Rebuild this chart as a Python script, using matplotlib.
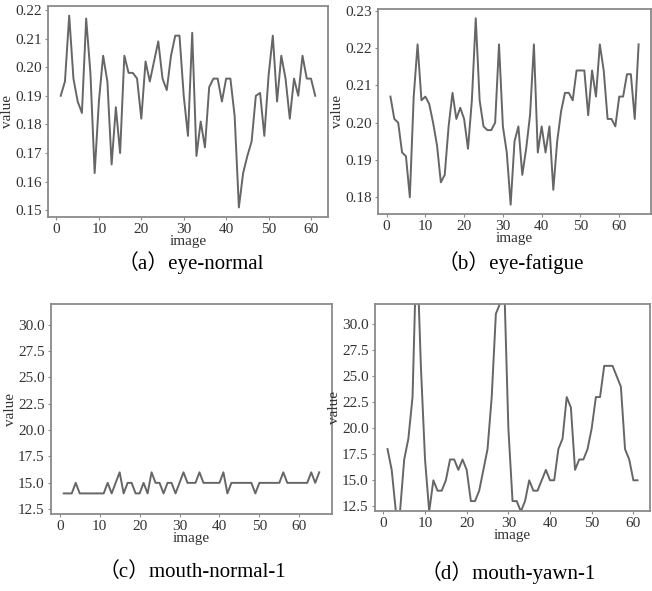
"""
四个子图：眼部/嘴部特征值随图像帧变化曲线
"""
import matplotlib
matplotlib.use('Agg')
import matplotlib.pyplot as plt
from matplotlib.ticker import MultipleLocator, FormatStrFormatter

# ========== 数据 ==========
eye_normal = [0.190, 0.195, 0.218, 0.196, 0.188, 0.184, 0.217, 0.198, 0.163, 0.188,
              0.204, 0.195, 0.166, 0.186, 0.170, 0.204, 0.198, 0.198, 0.196, 0.182,
              0.202, 0.195, 0.202, 0.209, 0.196, 0.192, 0.204, 0.211, 0.211, 0.190,
              0.176, 0.212, 0.169, 0.181, 0.172, 0.193, 0.196, 0.196, 0.188, 0.196,
              0.196, 0.183, 0.151, 0.163, 0.169, 0.174, 0.190, 0.191, 0.176, 0.197,
              0.211, 0.188, 0.204, 0.196, 0.182, 0.196, 0.190, 0.204, 0.196, 0.196,
              0.190]

eye_fatigue = [0.207, 0.201, 0.200, 0.192, 0.191, 0.180, 0.207, 0.221, 0.206, 0.207,
               0.205, 0.200, 0.194, 0.184, 0.186, 0.199, 0.208, 0.201, 0.204, 0.201,
               0.193, 0.206, 0.228, 0.206, 0.199, 0.198, 0.198, 0.200, 0.221, 0.199,
               0.192, 0.178, 0.195, 0.199, 0.186, 0.193, 0.202, 0.221, 0.192, 0.199,
               0.192, 0.199, 0.182, 0.195, 0.203, 0.208, 0.208, 0.206, 0.214, 0.214,
               0.214, 0.202, 0.214, 0.207, 0.221, 0.214, 0.201, 0.201, 0.199, 0.207,
               0.207, 0.213, 0.213, 0.201, 0.221]

mouth_normal = [14, 14, 14, 15, 14, 14, 14, 14, 14, 14,
                14, 15, 14, 15, 16, 14, 15, 15, 14, 14,
                15, 14, 16, 15, 15, 14, 15, 15, 14, 15,
                16, 15, 15, 15, 16, 15, 15, 15, 15, 15,
                16, 14, 15, 15, 15, 15, 15, 15, 14, 15,
                15, 15, 15, 15, 15, 16, 15, 15, 15, 15,
                15, 15, 16, 15, 16]

mouth_yawn = [18, 16, 12, 12, 17, 19, 23, 38, 26, 17,
              12, 15, 14, 14, 15, 17, 17, 16, 17, 16,
              13, 13, 14, 16, 18, 23, 31, 32, 34, 20,
              13, 13, 12, 13, 15, 14, 14, 15, 16, 15,
              15, 18, 19, 23, 22, 16, 17, 17, 18, 20,
              23, 23, 26, 26, 26, 25, 24, 18, 17, 15,
              15]

captions = ['（a）eye-normal', '（b）eye-fatigue', '（c）mouth-normal-1', '（d）mouth-yawn-1']

# ========== 绘图 ==========
plt.rcParams['font.family'] = ['Liberation Serif', 'DejaVu Serif']
line_color = '#666666'
spine_color = '#8a8a8a'

fig = plt.figure(figsize=(6.52, 5.91), dpi=100)

positions = [
    [0.0736, 0.6328, 0.4294, 0.3570],
    [0.5798, 0.6379, 0.4187, 0.3469],
    [0.0782, 0.1303, 0.4310, 0.3553],
    [0.5752, 0.1354, 0.4218, 0.3503],
]
series = [eye_normal, eye_fatigue, mouth_normal, mouth_yawn]

for i, (pos, ys) in enumerate(zip(positions, series)):
    ax = fig.add_axes(pos)
    xs = list(range(1, len(ys) + 1))
    ax.plot(xs, ys, color=line_color, linewidth=1.4)
    if i >= 2:
        ax.set_ylim(12.05, 31.95)
        ax.yaxis.set_major_locator(MultipleLocator(2.5))
        ax.yaxis.set_major_formatter(FormatStrFormatter('%.1f'))
    else:
        ax.yaxis.set_major_locator(MultipleLocator(0.01))
        ax.yaxis.set_major_formatter(FormatStrFormatter('%.2f'))
    ax.set_xticks([0, 10, 20, 30, 40, 50, 60])
    ax.set_xlabel('image', fontsize=11, labelpad=-1, color='#333333')
    ax.set_ylabel('value', fontsize=11, labelpad=1, color='#333333')
    ax.tick_params(labelsize=11, length=2.5, width=0.8, pad=2,
                   color=spine_color, labelcolor='#333333')
    for sp in ax.spines.values():
        sp.set_color(spine_color)
        sp.set_linewidth(1.3)

# 子图标题
cap_pos = [(0.292, 0.555), (0.783, 0.555), (0.295, 0.032), (0.779, 0.032)]
for (cx, cy), txt in zip(cap_pos, captions):
    fig.text(cx, cy, txt, ha='center', va='center', fontsize=15,
             family=['Liberation Serif', 'Noto Sans CJK SC'])

plt.savefig('out.png', dpi=100)
plt.close()
